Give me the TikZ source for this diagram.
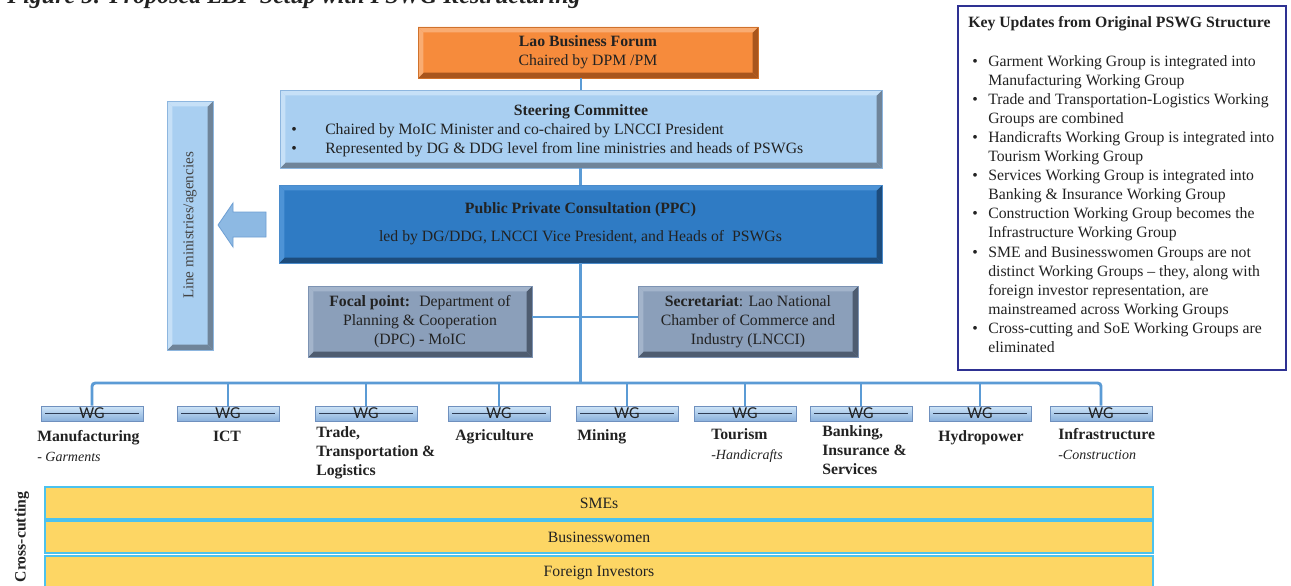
\documentclass[tikz,border=0pt]{standalone}
\usepackage{fontspec}
\setmainfont{Liberation Serif}
\newfontfamily\wgfont{Carlito}
\definecolor{txt}{HTML}{222222}
\definecolor{lbfF}{HTML}{F68B3C}\definecolor{lbfB}{HTML}{D0722C}\definecolor{lbfD}{HTML}{A9551C}\definecolor{lbfL}{HTML}{F9AC72}
\definecolor{scF}{HTML}{A9CFF1}\definecolor{scB}{HTML}{8DB6DF}\definecolor{scD}{HTML}{6F8499}\definecolor{scL}{HTML}{C6E0F7}
\definecolor{ppcF}{HTML}{2F7BC4}\definecolor{ppcB}{HTML}{4A8BCB}\definecolor{ppcD}{HTML}{1D4C7C}\definecolor{ppcL}{HTML}{4D93D6}
\definecolor{fpF}{HTML}{8B9FBA}\definecolor{fpB}{HTML}{7D93B3}\definecolor{fpD}{HTML}{4E5C70}\definecolor{fpL}{HTML}{A3B4CB}
\definecolor{connC}{HTML}{5B9BD5}
\definecolor{barF}{HTML}{FDD664}\definecolor{barB}{HTML}{4CC2EE}
\definecolor{keyB}{HTML}{2E3192}
\definecolor{wgT}{HTML}{CFE5F8}\definecolor{wgBo}{HTML}{8AB1DC}\definecolor{wgE}{HTML}{6F90BE}\definecolor{wgL}{HTML}{2F3D55}
\definecolor{arrF}{HTML}{8DB9E3}\definecolor{arrB}{HTML}{6E9FD3}
\tikzset{
  boxat/.style n args={4}{at={({(#1+#3)/2},{(#2+#4)/2})}, minimum width={(#3-#1)*0.75pt}, minimum height={(#4-#2)*0.75pt}},
  bevel/.style n args={4}{fill=#1, draw=#2, line width=0.7pt, inner sep=0pt, align=center, text=txt,
    path picture={
      \fill[#3] (path picture bounding box.south west) -- (path picture bounding box.south east)
        -- ([shift={(-4pt,4pt)}]path picture bounding box.south east) -- ([shift={(4pt,4pt)}]path picture bounding box.south west) -- cycle;
      \fill[#3] (path picture bounding box.south east) -- (path picture bounding box.north east)
        -- ([shift={(-4pt,-4pt)}]path picture bounding box.north east) -- ([shift={(-4pt,4pt)}]path picture bounding box.south east) -- cycle;
      \fill[#4] (path picture bounding box.north west) -- (path picture bounding box.north east)
        -- ([shift={(-4pt,-4pt)}]path picture bounding box.north east) -- ([shift={(4pt,-4pt)}]path picture bounding box.north west) -- cycle;
      \fill[#4] (path picture bounding box.north west) -- (path picture bounding box.south west)
        -- ([shift={(4pt,4pt)}]path picture bounding box.south west) -- ([shift={(4pt,-4pt)}]path picture bounding box.north west) -- cycle;
    }},
  conn/.style={draw=connC, line width=2.2pt},
  wgbox/.style={minimum width=76.5pt, minimum height=11.25pt, inner sep=0pt, draw=wgE, line width=0.6pt,
    top color=wgT, bottom color=wgBo, text=txt, font=\wgfont\fontsize{12.5}{12.5}\selectfont,
    path picture={\draw[wgL, line width=0.7pt] ([xshift=3pt]path picture bounding box.west) -- ([xshift=-3pt]path picture bounding box.east);}},
  lbl/.style={anchor=base west, inner sep=0pt, font=\bfseries, text=txt},
  sublbl/.style={anchor=base west, inner sep=0pt, font=\itshape\fontsize{10.5}{12}\selectfont, text=txt},
  bar/.style={fill=barF, draw=barB, line width=1.1pt, inner sep=0pt, text=txt},
  plain/.style={inner sep=0pt, text=txt},
}
\begin{document}
\begin{tikzpicture}[x=0.75pt, y=-0.75pt]
\fontsize{11.8}{14.3}\selectfont
\useasboundingbox (0,0) rectangle (1291,585);
\fill[white] (0,0) rectangle (1291,585);

% cut-off caption
\node[plain, anchor=base east, font=\bfseries\itshape\fontsize{18}{18}\selectfont] (fig) at (581,4) {Figure 5: Proposed LBF Setup with PSWG Restructuring};

% main boxes
\node[bevel={lbfF}{lbfB}{lbfD}{lbfL}, boxat={418}{27}{758}{78}] (lbf) {\textbf{Lao Business Forum}\\Chaired by DPM /PM};
\node[bevel={scF}{scB}{scD}{scL}, boxat={280}{90}{882}{168}] (sc) {};
\node[plain, anchor=base, font=\bfseries] (sct) at (581,115) {Steering Committee};
\node[plain, anchor=base west] (scb1) at (291,134) {\makebox[25.5pt][l]{\textbullet}Chaired by MoIC Minister and co-chaired by LNCCI President};
\node[plain, anchor=base west] (scb2) at (291,153) {\makebox[25.5pt][l]{\textbullet}Represented by DG \& DDG level from line ministries and heads of PSWGs};

\node[bevel={ppcF}{ppcB}{ppcD}{ppcL}, boxat={279}{185}{882}{263}] (ppc) {\textbf{Public Private Consultation (PPC)}\\[6.7pt]led by DG/DDG, LNCCI Vice President, and Heads of~ PSWGs};

\node[bevel={fpF}{fpB}{fpD}{fpL}, boxat={308}{286}{532}{357}] (focal) {\textbf{Focal point:}~ Department of\\Planning \& Cooperation\\(DPC) - MoIC};
\node[bevel={fpF}{fpB}{fpD}{fpL}, boxat={638}{286}{858}{357}] (sec) {\textbf{Secretariat}: Lao National\\Chamber of Commerce and\\Industry (LNCCI)};

% line ministries + arrow
\node[bevel={scF}{scB}{scD}{scL}, boxat={167}{101}{213}{350}] (lm) {};
\node[plain, rotate=90, font=\fontsize{11.3}{13}\selectfont, text=txt!85] (lmt) at (lm.center) {Line ministries/agencies};
\fill[arrF, draw=arrB, line width=0.6pt] (218,225) -- (233,203) -- (233,212) -- (266,212) -- (266,237) -- (233,237) -- (233,247) -- cycle;

% WG boxes
\node[wgbox] (wg1) at (92,413.5) {WG};
\node[wgbox] (wg2) at (228,413.5) {WG};
\node[wgbox] (wg3) at (366,413.5) {WG};
\node[wgbox] (wg4) at (499,413.5) {WG};
\node[wgbox] (wg5) at (627,413.5) {WG};
\node[wgbox] (wg6) at (745,413.5) {WG};
\node[wgbox] (wg7) at (861,413.5) {WG};
\node[wgbox] (wg8) at (980,413.5) {WG};
\node[wgbox] (wg9) at (1101,413.5) {WG};

% connectors
\coordinate (bus) at (580.5,383);
\draw[conn] (sc.north) -- (sc.north |- lbf.south);
\draw[conn] (ppc.north) -- (ppc.north |- sc.south);
\draw[conn] (ppc.south) -- (ppc.south |- bus);
\draw[conn] ([yshift=3.4pt]focal.east) -- ([yshift=3.4pt]sec.west);
\draw[conn, rounded corners=2.5pt] (wg1.north) |- (bus) -| (wg9.north);
\foreach \k in {2,...,8}{\draw[conn] (wg\k.north) -- (wg\k.north |- bus);}

% WG labels
\node[lbl] (l1a) at (37,441) {Manufacturing};
\node[sublbl] (l1b) at (37,461) {- Garments};
\node[lbl, anchor=base] (l2a) at (227,441) {ICT};
\node[lbl] (l3a) at (316,437) {Trade,};
\node[lbl] (l3b) at (316,456) {Transportation \&};
\node[lbl] (l3c) at (316,475) {Logistics};
\node[lbl] (l4a) at (455,440) {Agriculture};
\node[lbl] (l5a) at (577,440) {Mining};
\node[lbl] (l6a) at (711,439) {Tourism};
\node[sublbl] (l6b) at (711,459) {-Handicrafts};
\node[lbl] (l7a) at (822,436) {Banking,};
\node[lbl] (l7b) at (822,455) {Insurance \&};
\node[lbl] (l7c) at (822,474) {Services};
\node[lbl] (l8a) at (938,441) {Hydropower};
\node[lbl] (l9a) at (1058,439) {Infrastructure};
\node[sublbl] (l9b) at (1058,459) {-Construction};

% cross-cutting bars
\node[bar, boxat={45}{487}{1153}{519}] (sme) {SMEs};
\node[bar, boxat={45}{521}{1153}{553}] (bw) {Businesswomen};
\node[bar, boxat={45}{556}{1153}{589}] (fi) {Foreign Investors};
\node[plain, rotate=90, font=\bfseries] (cc) at (22,537) {Cross-cutting};

% key updates box
\node[draw=keyB, line width=1.1pt, inner sep=0pt, boxat={958}{6}{1286}{370}] (key) {};
\node[plain, anchor=base west] (keyt) at (968,28) {\begin{tabular}[t]{@{\hspace{3pt}}l@{\hspace{7.9pt}}l@{}}
\multicolumn{2}{@{}l@{}}{\textbf{Key Updates from Original PSWG Structure}}\\[14.5pt]
\textbullet & Garment Working Group is integrated into\\
 & Manufacturing Working Group\\
\textbullet & Trade and Transportation-Logistics Working\\
 & Groups are combined\\
\textbullet & Handicrafts Working Group is integrated into\\
 & Tourism Working Group\\
\textbullet & Services Working Group is integrated into\\
 & Banking \& Insurance Working Group\\
\textbullet & Construction Working Group becomes the\\
 & Infrastructure Working Group\\
\textbullet & SME and Businesswomen Groups are not\\
 & distinct Working Groups -- they, along with\\
 & foreign investor representation, are\\
 & mainstreamed across Working Groups\\
\textbullet & Cross-cutting and SoE Working Groups are\\
 & eliminated
\end{tabular}};
\end{tikzpicture}
\end{document}
